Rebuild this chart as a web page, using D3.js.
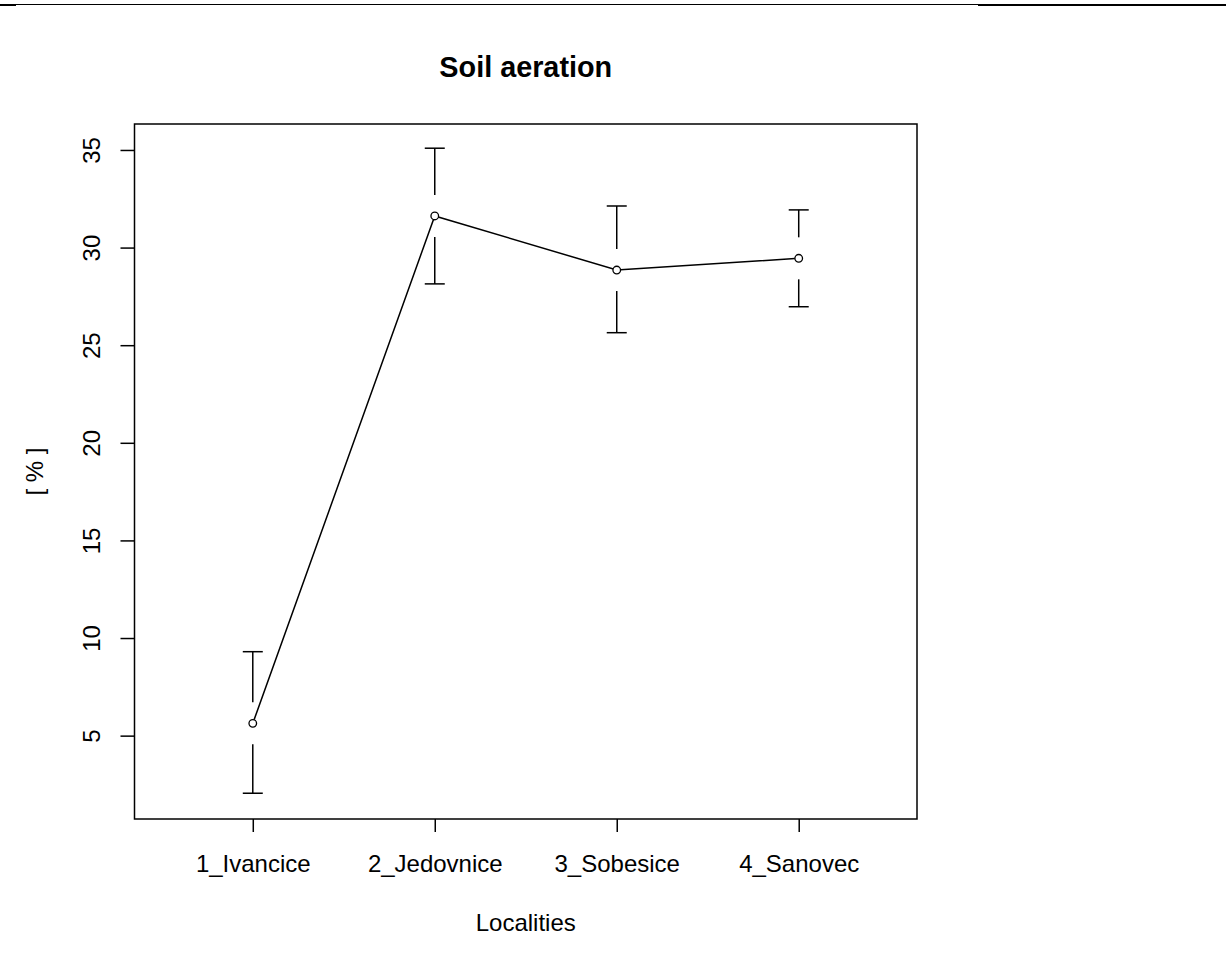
<!DOCTYPE html>
<html>
<head>
<meta charset="utf-8">
<script src="https://cdn.jsdelivr.net/npm/d3@7"></script>
<style>
  body { margin: 0; background: #fff; }
  text { font-family: "Liberation Sans", Arial, sans-serif; fill: #000; }
</style>
</head>
<body>
<svg id="chart" width="1226" height="964"></svg>
<script>
// -- DATA
var localities = ["1_Ivancice", "2_Jedovnice", "3_Sobesice", "4_Sanovec"];
var means = [5.63, 31.62, 28.85, 29.45];
var lower = [2.05, 28.14, 25.64, 26.97];
var upper = [9.30, 35.09, 32.13, 31.93];
var yTicks = [5, 10, 15, 20, 25, 30, 35];

var plot = {left: 134.5, right: 917, top: 124, bottom: 819};
var GAP = 21, CAP = 10;

var svg = d3.select("#chart");

// top border of the page
svg.append("line").attr("x1", 0).attr("x2", 1226).attr("y1", 4.5).attr("y2", 4.5)
  .attr("stroke", "#000").attr("stroke-width", 1);
svg.append("rect").attr("x", 0).attr("y", 4).attr("width", 16).attr("height", 2).attr("fill", "#000");
svg.append("rect").attr("x", 978).attr("y", 4).attr("width", 248).attr("height", 2).attr("fill", "#000");

var x = d3.scaleLinear().domain([0.35, 4.65]).range([plot.left, plot.right]);
var y = d3.scaleLinear().domain([0.73, 36.33]).range([plot.bottom, plot.top]);

// -- AXES
var yAxis = svg.append("g")
  .attr("transform", "translate(" + plot.left + ",0)")
  .call(d3.axisLeft(y).tickValues(yTicks).tickSize(14).tickSizeOuter(0).tickFormat(d3.format("d")));
yAxis.select(".domain").remove();
yAxis.selectAll(".tick line").attr("stroke-width", 1.5);
yAxis.selectAll(".tick text")
  .attr("x", null).attr("dy", null)
  .attr("transform", "translate(-34.5,0) rotate(-90)")
  .attr("text-anchor", "middle")
  .style("font-size", "24px");

var xAxis = svg.append("g")
  .attr("transform", "translate(0," + plot.bottom + ")")
  .call(d3.axisBottom(x).tickValues([1, 2, 3, 4]).tickSize(13).tickSizeOuter(0)
    .tickFormat(function(d) { return localities[d - 1]; }));
xAxis.select(".domain").remove();
xAxis.selectAll(".tick line").attr("stroke-width", 1.5);
xAxis.selectAll(".tick text")
  .attr("y", 53).attr("dy", null)
  .style("font-size", "24px");

svg.selectAll(".tick text").attr("font-family", null).attr("fill", "#000");
svg.selectAll(".tick line").attr("stroke", "#000");

// plot box
svg.append("rect")
  .attr("x", plot.left).attr("y", plot.top)
  .attr("width", plot.right - plot.left).attr("height", plot.bottom - plot.top)
  .attr("fill", "none").attr("stroke", "#000").attr("stroke-width", 1.5);

// -- ERROR BARS
var bars = svg.append("g").attr("stroke", "#000").attr("stroke-width", 1.5);
localities.forEach(function(name, i) {
  var cx = x(i + 1);
  bars.append("line").attr("x1", cx).attr("x2", cx)
    .attr("y1", y(upper[i])).attr("y2", y(means[i]) - GAP);
  bars.append("line").attr("x1", cx).attr("x2", cx)
    .attr("y1", y(means[i]) + GAP).attr("y2", y(lower[i]));
  bars.append("line").attr("x1", cx - CAP).attr("x2", cx + CAP)
    .attr("y1", y(upper[i])).attr("y2", y(upper[i]));
  bars.append("line").attr("x1", cx - CAP).attr("x2", cx + CAP)
    .attr("y1", y(lower[i])).attr("y2", y(lower[i]));
});

// -- MEAN LINE
var line = d3.line()
  .x(function(d, i) { return x(i + 1); })
  .y(function(d) { return y(d); });
svg.append("path").datum(means)
  .attr("d", line)
  .attr("fill", "none").attr("stroke", "#000").attr("stroke-width", 1.5);

svg.selectAll(".pt").data(means).enter().append("circle")
  .attr("class", "pt")
  .attr("cx", function(d, i) { return x(i + 1); })
  .attr("cy", function(d) { return y(d); })
  .attr("r", 3.8)
  .attr("fill", "#fff").attr("stroke", "#000").attr("stroke-width", 1.3);

// -- TITLES
svg.append("text")
  .attr("x", (plot.left + plot.right) / 2).attr("y", 77)
  .attr("text-anchor", "middle")
  .style("font-size", "28.8px").style("font-weight", "bold")
  .text("Soil aeration");

svg.append("text")
  .attr("x", (plot.left + plot.right) / 2).attr("y", 931)
  .attr("text-anchor", "middle")
  .style("font-size", "24px")
  .text("Localities");

svg.append("text")
  .attr("transform", "translate(43," + ((plot.top + plot.bottom) / 2) + ") rotate(-90)")
  .attr("text-anchor", "middle")
  .style("font-size", "24px")
  .text("[ % ]");
</script>
</body>
</html>
